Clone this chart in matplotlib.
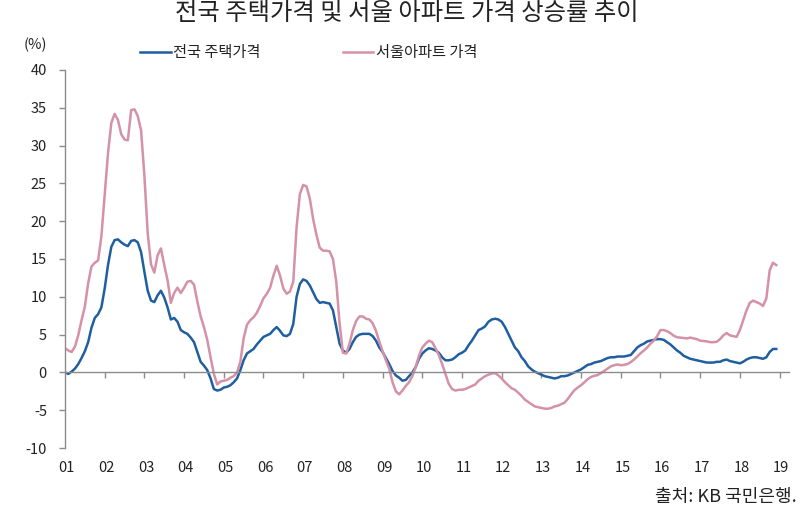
import numpy as np
import matplotlib
matplotlib.use("Agg")
import matplotlib.pyplot as plt

plt.rcParams['font.family'] = ['Noto Sans CJK KR', 'DejaVu Sans']

title = "전국 주택가격 및 서울 아파트 가격 상승률 추이"
series_names = ["전국 주택가격", "서울아파트 가격"]
year_labels = ["01", "02", "03", "04", "05", "06", "07", "08", "09", "10",
               "11", "12", "13", "14", "15", "16", "17", "18", "19"]
y_ticks = [-10, -5, 0, 5, 10, 15, 20, 25, 30, 35, 40]
start_year = 2001

# Monthly YoY change (%), Jan 2001 - Dec 2018
national = [
    0.0, -0.2, 0.1, 0.5, 1.1, 1.9, 2.8, 4.0, 5.9, 7.2, 7.7, 8.6,          # 2001
    11.1, 14.2, 16.6, 17.5, 17.6, 17.2, 16.9, 16.7, 17.4, 17.5, 17.2, 15.9,  # 2002
    13.3, 10.8, 9.5, 9.3, 10.2, 10.8, 9.9, 8.6, 7.0, 7.2, 6.7, 5.6,      # 2003
    5.3, 5.1, 4.6, 4.0, 2.7, 1.4, 0.9, 0.3, -0.8, -2.2, -2.4, -2.3,      # 2004
    -2.0, -1.9, -1.7, -1.3, -0.8, 0.3, 1.6, 2.5, 2.8, 3.1, 3.7, 4.2,     # 2005
    4.7, 4.9, 5.1, 5.6, 6.0, 5.5, 4.9, 4.8, 5.1, 6.4, 10.0, 11.7,        # 2006
    12.3, 12.1, 11.5, 10.6, 9.7, 9.2, 9.3, 9.2, 9.1, 8.2, 6.0, 3.8,      # 2007
    2.9, 2.6, 3.1, 4.0, 4.7, 5.0, 5.1, 5.1, 5.1, 4.8, 4.2, 3.3,          # 2008
    2.7, 1.9, 1.1, 0.2, -0.4, -0.7, -1.1, -1.0, -0.5, 0.0, 0.7, 1.8,     # 2009
    2.5, 2.9, 3.2, 3.1, 2.9, 2.6, 2.0, 1.6, 1.6, 1.7, 2.0, 2.4,          # 2010
    2.6, 2.9, 3.6, 4.2, 4.9, 5.6, 5.8, 6.1, 6.7, 7.0, 7.1, 7.0,          # 2011
    6.7, 6.0, 5.1, 4.2, 3.3, 2.8, 2.0, 1.5, 0.8, 0.4, 0.1, -0.1,         # 2012
    -0.3, -0.5, -0.6, -0.7, -0.8, -0.7, -0.5, -0.5, -0.4, -0.2, 0.0, 0.2,  # 2013
    0.4, 0.7, 1.0, 1.1, 1.3, 1.4, 1.5, 1.7, 1.9, 2.0, 2.0, 2.1,          # 2014
    2.1, 2.1, 2.2, 2.3, 2.8, 3.3, 3.6, 3.8, 4.1, 4.2, 4.3, 4.4,          # 2015
    4.4, 4.3, 4.0, 3.7, 3.3, 2.9, 2.6, 2.2, 2.0, 1.8, 1.7, 1.6,          # 2016
    1.5, 1.4, 1.3, 1.3, 1.3, 1.4, 1.4, 1.6, 1.7, 1.5, 1.4, 1.3,          # 2017
    1.2, 1.4, 1.7, 1.9, 2.0, 2.0, 1.9, 1.8, 2.0, 2.7, 3.1, 3.1,          # 2018
]

seoul_apt = [
    3.2, 2.9, 2.7, 3.4, 4.9, 6.9, 8.7, 11.8, 14.0, 14.5, 14.8, 18.0,      # 2001
    23.5, 29.0, 33.0, 34.2, 33.4, 31.5, 30.8, 30.7, 34.7, 34.8, 33.9, 32.0,  # 2002
    26.0, 18.4, 14.3, 13.2, 15.5, 16.4, 14.2, 12.2, 9.2, 10.5, 11.2, 10.5,   # 2003
    11.2, 12.0, 12.1, 11.6, 9.4, 7.4, 6.0, 4.3, 2.0, -0.2, -1.6, -1.2,    # 2004
    -1.1, -1.0, -0.7, -0.5, 0.0, 1.4, 4.5, 6.3, 6.9, 7.3, 7.9, 8.8,       # 2005
    9.8, 10.4, 11.2, 12.8, 14.1, 12.8, 11.1, 10.4, 10.7, 12.0, 19.2, 23.6,  # 2006
    24.8, 24.6, 23.0, 20.3, 18.2, 16.5, 16.1, 16.1, 16.0, 15.0, 12.0, 6.5,  # 2007
    2.6, 2.5, 3.8, 5.6, 6.8, 7.4, 7.4, 7.1, 7.0, 6.5, 5.5, 4.1,           # 2008
    2.8, 1.6, 0.5, -1.3, -2.5, -2.9, -2.4, -1.8, -1.3, -0.5, 0.7, 2.2,    # 2009
    3.3, 3.8, 4.2, 4.0, 3.2, 2.3, 1.1, -0.2, -1.5, -2.2, -2.4, -2.3,      # 2010
    -2.3, -2.2, -2.0, -1.8, -1.6, -1.1, -0.8, -0.5, -0.3, -0.15, -0.1, -0.4,  # 2011
    -0.8, -1.3, -1.7, -2.1, -2.3, -2.7, -3.1, -3.6, -3.9, -4.2, -4.5, -4.6,   # 2012
    -4.7, -4.8, -4.8, -4.7, -4.5, -4.4, -4.2, -4.0, -3.5, -2.9, -2.35, -2.0,  # 2013
    -1.7, -1.3, -0.9, -0.6, -0.45, -0.35, -0.1, 0.2, 0.5, 0.8, 0.95, 1.05,    # 2014
    0.95, 1.0, 1.1, 1.35, 1.7, 2.1, 2.55, 2.9, 3.3, 3.8, 4.2, 4.8,        # 2015
    5.6, 5.6, 5.45, 5.2, 4.85, 4.65, 4.6, 4.55, 4.5, 4.6, 4.5, 4.4,       # 2016
    4.2, 4.15, 4.1, 4.0, 4.0, 4.05, 4.4, 4.9, 5.2, 4.9, 4.8, 4.7,         # 2017
    5.6, 6.9, 8.2, 9.2, 9.5, 9.3, 9.1, 8.8, 9.8, 13.5, 14.5, 14.2,        # 2018
]

blue = "#1f5f9f"
pink = "#d491a8"
axis_grey = "#8c8c8c"
text_col = "#222222"

t = start_year + np.arange(len(national)) / 12.0

fig = plt.figure(figsize=(8.0, 5.14), dpi=100)
ax = fig.add_axes([65 / 800, 66 / 514, 724.5 / 800, 378 / 514])

ax.plot(t, national, color=blue, lw=1.8, label=series_names[0], solid_joinstyle='round')
ax.plot(t, seoul_apt, color=pink, lw=1.8, label=series_names[1], solid_joinstyle='round')

ax.set_xlim(start_year, start_year + 18.25)
ax.set_ylim(-10, 40)

for s in ['top', 'right']:
    ax.spines[s].set_visible(False)
ax.spines['left'].set_color(axis_grey)
ax.spines['bottom'].set_color(axis_grey)
ax.spines['bottom'].set_position(('data', 0))
ax.spines['left'].set_linewidth(1.0)
ax.spines['bottom'].set_linewidth(1.0)

ax.set_yticks(y_ticks)
ax.set_yticklabels([str(v) for v in y_ticks])
ax.tick_params(axis='y', direction='out', length=4, width=1.0, color=axis_grey,
               labelsize=10.5, labelcolor=text_col, pad=9)

years = [start_year + i for i in range(len(year_labels))]
ax.set_xticks(years[1:])
ax.set_xticklabels([])
ax.tick_params(axis='x', direction='out', length=4, width=1.0, color=axis_grey)
for yr, lab in zip(years, year_labels):
    ax.text(yr + 0.04, -12.7, lab, ha='center', va='center', fontsize=10.5,
            color=text_col, clip_on=False)

fig.text(407 / 800, 1 - 13 / 514, title, ha='center', va='center', fontsize=17.5, color=text_col)
fig.text(35 / 800, 1 - 45 / 514, "(%)", ha='center', va='center', fontsize=10.5, color=text_col)
fig.text(797 / 800, 1 - 497 / 514, "출처: KB 국민은행.", ha='right', va='center', fontsize=13, color=text_col)

leg = ax.legend(loc='center left', bbox_to_anchor=(140 / 800, 1 - 53 / 514),
                bbox_transform=fig.transFigure, ncol=2, frameon=False, fontsize=11,
                handlelength=2.0, handletextpad=0.15, columnspacing=5.4,
                borderpad=0, borderaxespad=0)
for txt in leg.get_texts():
    txt.set_color(text_col)

fig.savefig("out.png", dpi=100)
